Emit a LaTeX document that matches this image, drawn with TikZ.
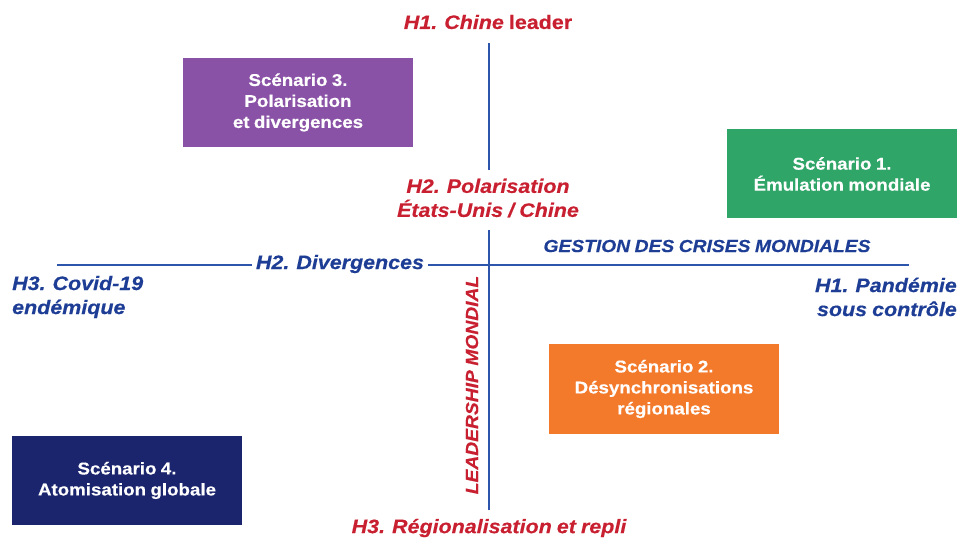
\documentclass[tikz,border=0pt]{standalone}
\usepackage{fontspec}
\setmainfont{Liberation Sans}[FakeStretch=1.1, WordSpace=0.85,
  BoldFeatures={FakeBold=0.4}, BoldItalicFeatures={FakeBold=0.4}]
\definecolor{hred}{RGB}{200,32,48}
\definecolor{hblue}{RGB}{30,62,150}
\definecolor{axisblue}{RGB}{45,85,172}
\definecolor{spurple}{RGB}{138,82,166}
\definecolor{sgreen}{RGB}{47,165,104}
\definecolor{sorange}{RGB}{244,122,43}
\definecolor{snavy}{RGB}{27,37,110}
\tikzset{
  scen/.style={fill=#1, text=white, minimum width=230pt, minimum height=89pt,
    inner sep=0pt, align=center, font=\fontsize{17}{21}\selectfont\bfseries},
  redlbl/.style={text=hred, align=center, inner sep=2pt,
    font=\fontsize{19.5}{24}\selectfont\bfseries\itshape},
  bluelbl/.style={text=hblue, inner sep=0pt,
    font=\fontsize{19.5}{24}\selectfont\bfseries\itshape},
  axisline/.style={draw=axisblue, line width=2pt}
}
\begin{document}
\begin{tikzpicture}[x=1pt,y=-1pt]
\useasboundingbox (0,0) rectangle (962,540);
% scenario boxes
\node[scen=spurple] (s3) at (298,102.5) {Scénario 3.\\Polarisation\\et divergences};
\node[scen=sgreen]  (s1) at (842,174) {Scénario 1.\\Émulation mondiale};
\node[scen=sorange] (s2) at (664,389) {Scénario 2.\\Désynchronisations\\régionales};
\node[scen=snavy]   (s4) at (127,480.5) {Scénario 4.\\Atomisation globale};
% labels
\node[redlbl] (h1c) at (488,22) {H1. Chine \upshape leader};
\node[redlbl] (h2p) at (488,198) {H2. Polarisation\\États-Unis / Chine};
\node[redlbl] (h3r) at (489,528) {H3. Régionalisation et repli};
\node[redlbl, rotate=90, font=\fontsize{17.5}{20}\selectfont\bfseries\itshape] (lead) at (472,385) {LEADERSHIP MONDIAL};
\node[bluelbl, inner xsep=4pt] (div) at (340,264) {H2. Divergences};
\node[bluelbl, font=\fontsize{17.5}{20}\selectfont\bfseries\itshape] (gest) at (707,246) {GESTION DES CRISES MONDIALES};
\node[bluelbl, anchor=west, align=left] (h3c) at (12,297) {H3. Covid-19\\endémique};
\node[bluelbl, anchor=east, align=right] (h1p) at (957,297) {H1. Pandémie\\sous contrôle};
% axes
\coordinate (vtop) at (489,43);
\coordinate (vgapa) at (489,170);
\coordinate (vgapb) at (489,230);
\coordinate (vbot) at (489,510);
\coordinate (hleft) at (57,265);
\coordinate (hright) at (909,265);
\draw[axisline] (vtop) -- (vgapa);
\draw[axisline] (vgapb) -- (vbot);
\draw[axisline] (hleft) -- (div.west |- hleft);
\draw[axisline] (div.east |- hright) -- (hright);
\end{tikzpicture}
\end{document}
